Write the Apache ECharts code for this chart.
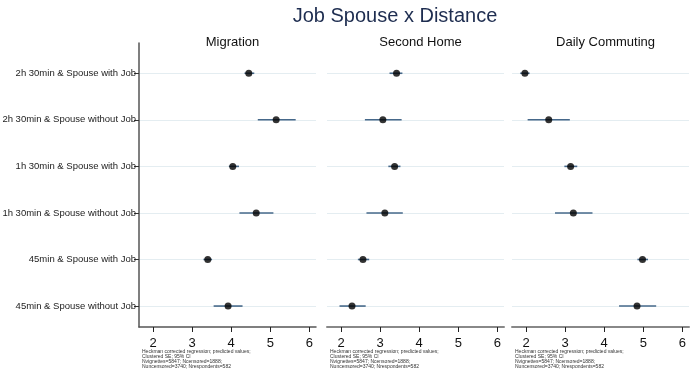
<!DOCTYPE html>
<html>
<head>
<meta charset="utf-8">
<script src="https://cdn.jsdelivr.net/npm/echarts@6/dist/echarts.min.js"></script>
<style>
  html, body { margin: 0; padding: 0; background: #fff; }
  #chart { width: 690px; height: 372px; }
</style>
</head>
<body>
<div id="chart"></div>
<script>
// rows, top to bottom
const rowLabels = [
  '2h 30min & Spouse with Job',
  '2h 30min & Spouse without Job',
  '1h 30min & Spouse with Job',
  '1h 30min & Spouse without Job',
  '45min & Spouse with Job',
  '45min & Spouse without Job'
]
const rowIndex = [0, 1, 2, 3, 4, 5]
const panelTitles = ['Migration', 'Second Home', 'Daily Commuting']
const xTicks = [2, 3, 4, 5, 6]

// predicted values and 95% CI
const migrationEst = [4.45, 5.15, 4.04, 4.64, 3.40, 3.92]
const migrationLo = [4.34, 4.68, 3.94, 4.21, 3.29, 3.55]
const migrationHi = [4.59, 5.65, 4.20, 5.08, 3.51, 4.29]

const secondHomeEst = [3.42, 3.07, 3.37, 3.12, 2.56, 2.28]
const secondHomeLo = [3.24, 2.61, 3.21, 2.65, 2.43, 1.96]
const secondHomeHi = [3.57, 3.55, 3.52, 3.58, 2.72, 2.63]

const commutingEst = [1.97, 2.58, 3.14, 3.21, 4.98, 4.84]
const commutingLo = [1.85, 2.04, 2.98, 2.74, 4.85, 4.38]
const commutingHi = [2.09, 3.12, 3.31, 3.70, 5.12, 5.33]

const noteLines = [
  'Heckman corrected regression; predicted values;',
  'Clustered SE; 95% CI',
  'Nvignettes=5847; Ncensored=1888;',
  'Nuncensored=3740; Nrespondents=582'
]

const panels = [
  { est: migrationEst, lo: migrationLo, hi: migrationHi },
  { est: secondHomeEst, lo: secondHomeLo, hi: secondHomeHi },
  { est: commutingEst, lo: commutingLo, hi: commutingHi }
]

const gridLefts = [139, 327, 512]
const gridWidth = 177
const font = 'Liberation Sans, Arial, sans-serif'

const chart = echarts.init(document.getElementById('chart'), null, { renderer: 'canvas' })

const grids = gridLefts.map(l => ({
  left: l, width: gridWidth, top: 43, height: 284,
  containLabel: false, outerBoundsMode: 'none'
}))

const xAxes = gridLefts.map((l, i) => ({
  type: 'value',
  gridIndex: i,
  position: 'bottom',
  min: 1.64,
  max: 6.17,
  axisLine: { show: true, onZero: false, lineStyle: { color: i === 0 ? '#555' : '#888', width: i === 0 ? 1.5 : 2 } },
  axisTick: { show: true, length: 5, customValues: xTicks, lineStyle: { color: '#222', width: 1 } },
  axisLabel: { customValues: xTicks, fontSize: 13, color: '#111', margin: 10, fontFamily: font },
  splitLine: { show: false }
}))

const yAxes = gridLefts.map((l, i) => ({
  type: 'value',
  gridIndex: i,
  inverse: true,
  position: 'left',
  min: -0.65,
  max: 5.45,
  axisLine: { show: i === 0, onZero: false, lineStyle: { color: '#555', width: 1.5 } },
  axisTick: { show: i === 0, length: 5, customValues: rowIndex, lineStyle: { color: '#333' } },
  axisLabel: {
    show: i === 0,
    customValues: rowIndex,
    fontSize: 9.5,
    color: '#222',
    margin: 3,
    fontFamily: font,
    formatter: v => rowLabels[Math.round(v)] || ''
  },
  splitLine: { show: true, lineStyle: { color: '#e4edf1', width: 1 } }
}))

const series = []
panels.forEach((p, i) => {
  series.push({
    type: 'custom',
    xAxisIndex: i,
    yAxisIndex: i,
    silent: true,
    data: rowIndex.map(r => [r, p.lo[r], p.hi[r]]),
    encode: { x: [1, 2], y: 0 },
    renderItem: function (params, api) {
      const a = api.coord([api.value(1), api.value(0)])
      const b = api.coord([api.value(2), api.value(0)])
      return {
        type: 'line',
        shape: { x1: a[0], y1: a[1], x2: b[0], y2: b[1] },
        style: { stroke: '#46688a', lineWidth: 1.6 }
      }
    },
    z: 2
  })
  series.push({
    type: 'scatter',
    xAxisIndex: i,
    yAxisIndex: i,
    data: rowIndex.map(r => [p.est[r], r]),
    symbol: 'circle',
    symbolSize: 7,
    itemStyle: { color: '#000' },
    z: 3
  })
})

const titles = [{
  text: 'Job Spouse x Distance',
  left: 390,
  top: 1,
  textAlign: 'center',
  textStyle: { fontSize: 20, fontWeight: 'normal', color: '#1e2d50', fontFamily: font }
}].concat(panelTitles.map((t, i) => ({
  text: t,
  left: gridLefts[i] + gridWidth / 2,
  top: 31,
  textAlign: 'center',
  textStyle: { fontSize: 13, fontWeight: 'normal', color: '#111', fontFamily: font }
})))

const notes = gridLefts.map(l => ({
  type: 'text',
  left: l + 3,
  top: 349,
  style: {
    text: noteLines.join('\n'),
    fontSize: 5,
    lineHeight: 4.9,
    fill: '#333',
    fontFamily: font
  }
}))

chart.setOption({
  animation: false,
  backgroundColor: '#fff',
  title: titles,
  grid: grids,
  xAxis: xAxes,
  yAxis: yAxes,
  series: series,
  graphic: notes
})
</script>
</body>
</html>
